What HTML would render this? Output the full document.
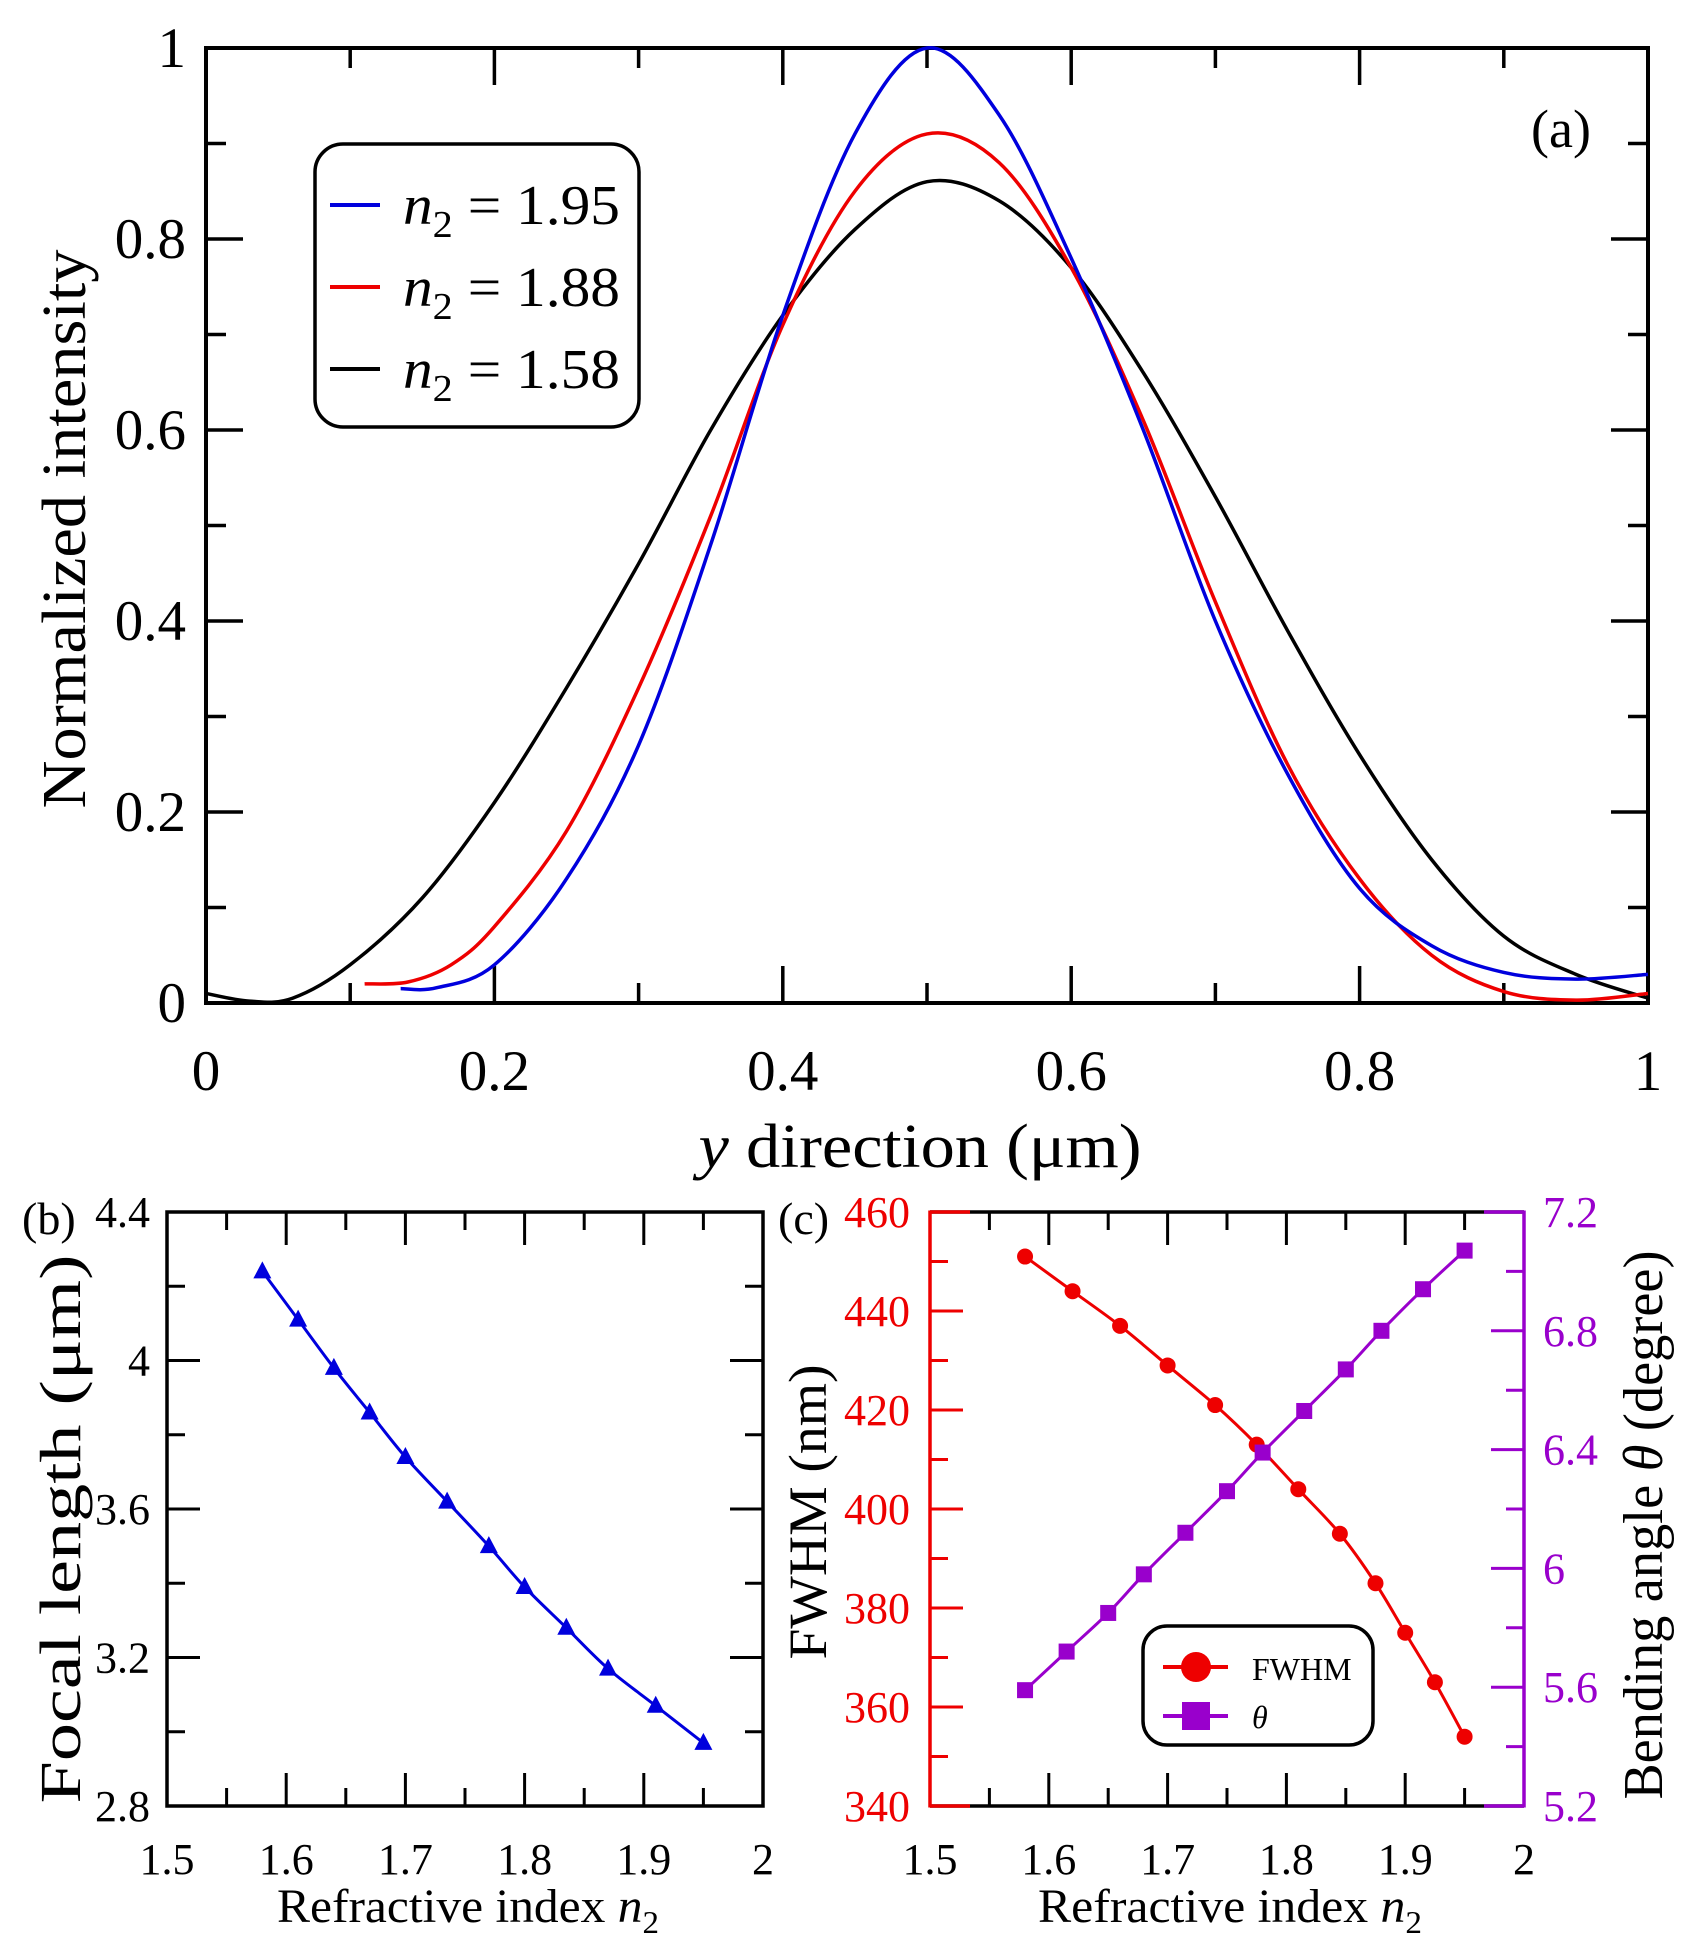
<!DOCTYPE html>
<html><head><meta charset="utf-8"><style>
html,body{margin:0;padding:0;background:#fff;}
svg text{font-family:"Liberation Serif",serif;}
</style></head><body>
<svg id="s" width="1695" height="1950" xmlns="http://www.w3.org/2000/svg"></svg>
<script>
const S=document.getElementById('s');let h='';
function L(x1,y1,x2,y2,c,w){h+=`<line x1="${x1}" y1="${y1}" x2="${x2}" y2="${y2}" stroke="${c}" stroke-width="${w}"/>`;}
function T(x,y,t,sz,anc,c,extra){h+=`<text x="${x}" y="${y}" font-size="${sz}" text-anchor="${anc||'middle'}" fill="${c||'#000'}" ${extra||''}>${t}</text>`;}
function smooth(pts){let d=`M${pts[0][0]},${pts[0][1]}`;for(let i=0;i<pts.length-1;i++){const p0=pts[Math.max(i-1,0)],p1=pts[i],p2=pts[i+1],p3=pts[Math.min(i+2,pts.length-1)];d+=` C${p1[0]+(p2[0]-p0[0])/6},${p1[1]+(p2[1]-p0[1])/6} ${p2[0]-(p3[0]-p1[0])/6},${p2[1]-(p3[1]-p1[1])/6} ${p2[0]},${p2[1]}`;}return d;}
const LA='lengthAdjust="spacingAndGlyphs"';
// Panel a
const ax0=206,ax1=1648,ay0=1003,ay1=48;
const X=v=>ax0+v*(ax1-ax0),Y=v=>ay0-v*(ay0-ay1);
for(let i=0;i<=10;i++){const x=X(i/10),len=i%2?20:37;L(x,ay0,x,ay0-len,'#000',3.5);L(x,ay1,x,ay1+len,'#000',3.5);
 if(i%2==0)T(x,1090,(i/10).toString(),57);}
for(let i=0;i<=10;i++){const y=Y(i/10),len=i%2?20:37;L(ax0,y,ax0+len,y,'#000',3.5);L(ax1,y,ax1-len,y,'#000',3.5);
 if(i%2==0)T(186,y+19,(i/10).toString(),57,'end');}
h+=`<rect x="${ax0}" y="${ay1}" width="${ax1-ax0}" height="${ay0-ay1}" fill="none" stroke="#000" stroke-width="4"/>`;
const blue=[[0.135,0.015],[0.16,0.016],[0.2,0.04],[0.25,0.13],[0.3,0.27],[0.35,0.48],[0.4,0.72],[0.45,0.91],[0.5,1.0],[0.55,0.93],[0.6,0.78],[0.65,0.6],[0.7,0.4],[0.75,0.24],[0.8,0.12],[0.85,0.06],[0.9,0.032],[0.95,0.025],[1,0.03]];
const red=[[0.11,0.02],[0.14,0.022],[0.17,0.04],[0.2,0.08],[0.25,0.18],[0.3,0.33],[0.35,0.51],[0.4,0.71],[0.45,0.85],[0.5,0.91],[0.55,0.88],[0.6,0.77],[0.65,0.61],[0.7,0.42],[0.75,0.25],[0.8,0.13],[0.85,0.05],[0.9,0.012],[0.95,0.003],[1,0.01]];
const black=[[0,0.01],[0.03,0.002],[0.06,0.005],[0.1,0.04],[0.15,0.11],[0.2,0.21],[0.25,0.33],[0.3,0.46],[0.35,0.6],[0.4,0.72],[0.45,0.81],[0.5,0.86],[0.55,0.84],[0.6,0.77],[0.65,0.66],[0.7,0.53],[0.75,0.39],[0.8,0.26],[0.85,0.15],[0.9,0.07],[0.95,0.03],[1,0.005]];
[[black,'#000'],[red,'#e00'],[blue,'#00d']].forEach(([d,c])=>{h+=`<path d="${smooth(d.map(p=>[X(p[0]),Y(p[1])]))}" fill="none" stroke="${c}" stroke-width="3.5"/>`;});
h+=`<rect x="315" y="144" width="324" height="283" rx="28" fill="#fff" stroke="#000" stroke-width="3.5"/>`;
[['#00d','1.95',205],['#e00','1.88',287],['#000','1.58',369]].forEach(([c,v,y])=>{L(330,y,380,y,c,4);h+=`<text x="403" y="${y+19}" font-size="56" textLength="217" ${LA}><tspan font-style="italic">n</tspan><tspan font-size="38" dy="13">2</tspan><tspan dy="-13"> = ${v}</tspan></text>`;});
T(1561,147,'(a)',54);
T(0,0,'Normalized intensity',62,'middle','#000',`textLength="559" ${LA} transform="translate(85,529) rotate(-90)"`);
h+=`<text x="920" y="1167" font-size="62" text-anchor="middle" textLength="443" ${LA}><tspan font-style="italic">y</tspan> direction (μm)</text>`;
// Panel b
const bx0=167,bx1=763,by0=1806,by1=1212;
const BX=v=>bx0+(v-1.5)/0.5*(bx1-bx0),BY=v=>by0-(v-2.8)/1.6*(by0-by1);
for(let i=0;i<=10;i++){const x=bx0+i*(bx1-bx0)/10,len=i%2?18:33;L(x,by0,x,by0-len,'#000',3);L(x,by1,x,by1+len,'#000',3);
 if(i%2==0)T(x,1874,[1.5,1.6,1.7,1.8,1.9,2][i/2],44);}
for(let i=0;i<=8;i++){const y=by0-i*(by0-by1)/8,len=i%2?18:33;L(bx0,y,bx0+len,y,'#000',3);L(bx1,y,bx1-len,y,'#000',3);
 if(i%2==0)T(150,y+15,['2.8','3.2','3.6','4','4.4'][i/2],44,'end');}
h+=`<rect x="${bx0}" y="${by1}" width="${bx1-bx0}" height="${by0-by1}" fill="none" stroke="#000" stroke-width="3.5"/>`;
const fx=[1.58,1.61,1.64,1.67,1.70,1.735,1.77,1.80,1.835,1.87,1.91,1.95],fy=[4.24,4.11,3.98,3.86,3.74,3.62,3.50,3.39,3.28,3.17,3.07,2.97];
const bp=fx.map((x,i)=>[BX(x),BY(fy[i])]);
h+=`<path d="${smooth(bp)}" fill="none" stroke="#00d" stroke-width="3"/>`;
bp.forEach(([x,y])=>{h+=`<polygon points="${x},${y-10} ${x-9},${y+7} ${x+9},${y+7}" fill="#00d"/>`;});
T(22,1234,'(b)',46,'start');
T(0,0,'Focal length (μm)',58,'middle','#000',`textLength="549" ${LA} transform="translate(80,1529) rotate(-90)"`);
h+=`<text x="468" y="1922" font-size="48" text-anchor="middle" textLength="382" ${LA}>Refractive index <tspan font-style="italic">n</tspan><tspan font-size="32" dy="11">2</tspan></text>`;
// Panel c
const cx0=930,cx1=1524,cy0=1806,cy1=1212;
const CX=v=>cx0+(v-1.5)/0.5*(cx1-cx0),CYL=v=>cy0-(v-340)/120*(cy0-cy1),CYR=v=>cy0-(v-5.2)/2*(cy0-cy1);
L(cx0,cy0,cx1,cy0,'#000',3.5);L(cx0,cy1,cx1,cy1,'#000',3.5);
for(let i=0;i<=10;i++){const x=cx0+i*(cx1-cx0)/10,len=i%2?18:33;L(x,cy0,x,cy0-len,'#000',3);L(x,cy1,x,cy1+len,'#000',3);
 if(i%2==0)T(x,1874,[1.5,1.6,1.7,1.8,1.9,2][i/2],44);}
L(cx0,cy0,cx0+40,cy0,'#e00',3.5);L(cx0,cy1,cx0+40,cy1,'#e00',3.5);
L(cx1-40,cy0,cx1,cy0,'#90c',3.5);L(cx1-40,cy1,cx1,cy1,'#90c',3.5);
L(cx0,cy0+1.5,cx0,cy1-1.5,'#e00',3.5);L(cx1,cy0+1.5,cx1,cy1-1.5,'#90c',3.5);
for(let i=0;i<=12;i++){const y=cy0-i*(cy0-cy1)/12,len=i%2?18:33;L(cx0,y,cx0+len,y,'#e00',3);if(i%2==0)T(910,y+15,340+i*10,44,'end','#e00');}
for(let i=0;i<=10;i++){const y=cy0-i*(cy0-cy1)/10,len=i%2?18:33;L(cx1,y,cx1-len,y,'#90c',3);if(i%2==0)T(1543,y+15,['5.2','5.6','6','6.4','6.8','7.2'][i/2],44,'start','#90c');}
const wx=[1.58,1.62,1.66,1.70,1.74,1.775,1.81,1.845,1.875,1.90,1.925,1.95],wy=[451,444,437,429,421,413,404,395,385,375,365,354];
const tx=[1.58,1.615,1.65,1.68,1.715,1.75,1.78,1.815,1.85,1.88,1.915,1.95],ty=[5.59,5.72,5.85,5.98,6.12,6.26,6.39,6.53,6.67,6.80,6.94,7.07];
const wp=wx.map((x,i)=>[CX(x),CYL(wy[i])]),tp=tx.map((x,i)=>[CX(x),CYR(ty[i])]);
h+=`<path d="${smooth(wp)}" fill="none" stroke="#e00" stroke-width="3"/>`;
h+=`<path d="${smooth(tp)}" fill="none" stroke="#90c" stroke-width="3"/>`;
wp.forEach(([x,y])=>{h+=`<circle cx="${x}" cy="${y}" r="8" fill="#e00"/>`;});
tp.forEach(([x,y])=>{h+=`<rect x="${x-8}" y="${y-8}" width="16" height="16" fill="#90c"/>`;});
h+=`<rect x="1143" y="1626" width="230" height="119" rx="24" fill="#fff" stroke="#000" stroke-width="3.5"/>`;
L(1163,1667,1228,1667,'#e00',4);h+=`<circle cx="1196" cy="1667" r="15" fill="#e00"/>`;T(1252,1680,'FWHM',32,'start');
L(1163,1716,1228,1716,'#90c',4);h+=`<rect x="1182" y="1702" width="28" height="28" fill="#90c"/>`;T(1252,1728,'θ',32,'start','#000','font-style="italic"');
T(778,1234,'(c)',46,'start');
T(0,0,'FWHM (nm)',54,'middle','#000',`textLength="295" ${LA} transform="translate(826,1512) rotate(-90)"`);
h+=`<text font-size="56" text-anchor="middle" textLength="549" ${LA} transform="translate(1662,1525) rotate(-90)">Bending angle <tspan font-style="italic">θ</tspan> (degree)</text>`;
h+=`<text x="1230" y="1922" font-size="48" text-anchor="middle" textLength="384" ${LA}>Refractive index <tspan font-style="italic">n</tspan><tspan font-size="32" dy="11">2</tspan></text>`;
S.innerHTML=h;
</script>
</body></html>
